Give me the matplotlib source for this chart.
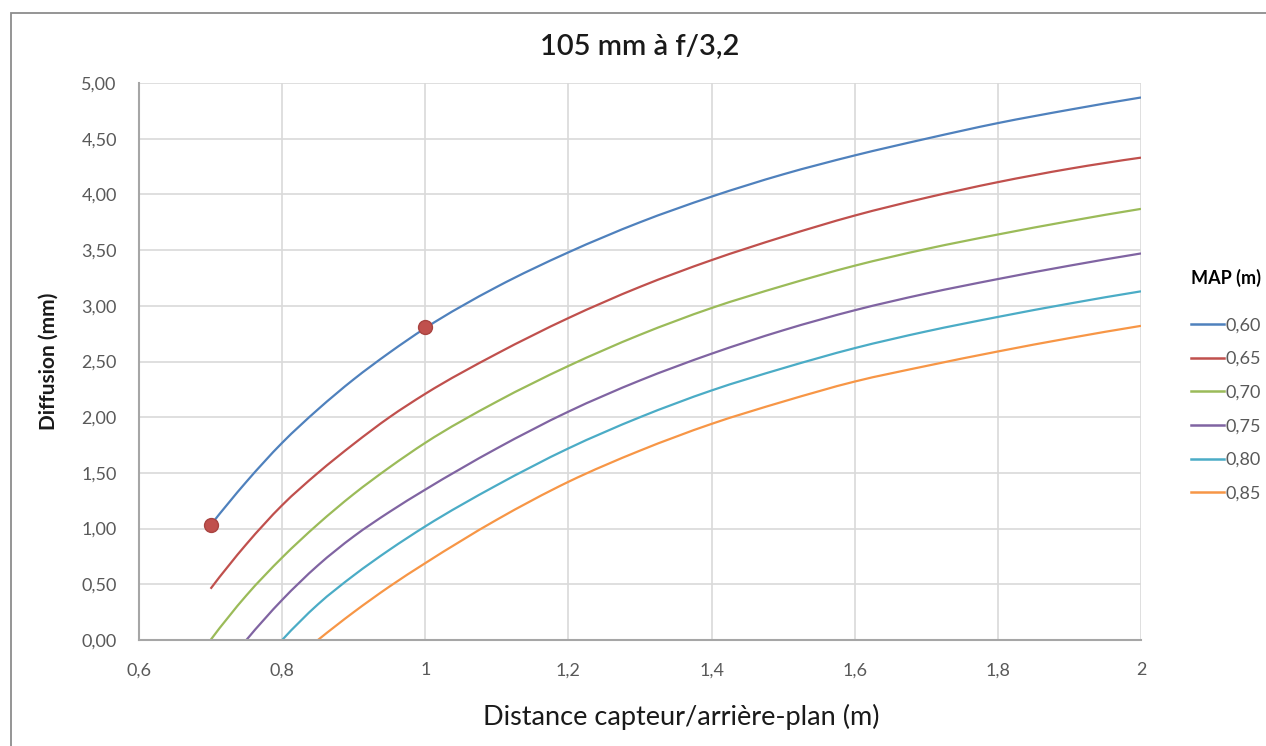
import matplotlib
matplotlib.use("Agg")
import matplotlib.pyplot as plt
from matplotlib.patches import Rectangle, PathPatch
from matplotlib.path import Path
from matplotlib.lines import Line2D
from matplotlib.ticker import FixedLocator, FuncFormatter

plt.rcParams['font.family'] = ['Lato', 'DejaVu Sans']

# distances (m)
dist = [0.70, 0.75, 0.80, 0.85, 0.90, 0.95, 1.00, 1.10, 1.20, 1.30,
        1.40, 1.50, 1.60, 1.70, 1.80, 1.90, 2.00]

map_labels = ["0,60", "0,65", "0,70", "0,75", "0,80", "0,85"]

# diffusion (mm) per MAP value; curves start where MAP is reached
blur_060 = [1.03, 1.42, 1.77, 2.07, 2.34, 2.58, 2.80, 3.17, 3.48, 3.75,
            3.98, 4.18, 4.35, 4.50, 4.64, 4.76, 4.87]
blur_065 = [0.46, 0.86, 1.21, 1.50, 1.76, 2.00, 2.21, 2.57, 2.89, 3.17,
            3.41, 3.62, 3.81, 3.97, 4.11, 4.23, 4.33]
blur_070 = [0.00, 0.40, 0.74, 1.04, 1.31, 1.55, 1.77, 2.14, 2.46, 2.74,
            2.98, 3.18, 3.36, 3.51, 3.64, 3.76, 3.87]
blur_075 = [0.00, 0.36, 0.67, 0.93, 1.15, 1.35, 1.72, 2.05, 2.33,
            2.57, 2.78, 2.96, 3.11, 3.24, 3.36, 3.47]
blur_080 = [0.00, 0.32, 0.58, 0.81, 1.02, 1.39, 1.72, 2.00,
            2.24, 2.44, 2.62, 2.77, 2.90, 3.02, 3.13]
blur_085 = [0.00, 0.25, 0.48, 0.69, 1.08, 1.42, 1.70,
            1.94, 2.14, 2.32, 2.46, 2.59, 2.71, 2.82]

series = [blur_060, blur_065, blur_070, blur_075, blur_080, blur_085]
colors = ["#4F81BD", "#C0504D", "#9BBB59", "#8064A2", "#4BACC6", "#F79646"]

# highlighted points
pt_x = [0.70, 1.00]
pt_y = [1.03, 2.81]

x_ticks = [0.6, 0.8, 1.0, 1.2, 1.4, 1.6, 1.8, 2.0]
y_ticks = [0, 0.5, 1, 1.5, 2, 2.5, 3, 3.5, 4, 4.5, 5]


def smooth_path(xs, ys):
    # smoothed line like Excel: cubic Hermite through the points, drawn as Bezier
    n = len(xs)
    h = [xs[i+1] - xs[i] for i in range(n-1)]
    s = [(ys[i+1] - ys[i]) / h[i] for i in range(n-1)]
    m = [0.0] * n
    for i in range(1, n-1):
        m[i] = (h[i] * s[i-1] + h[i-1] * s[i]) / (h[i-1] + h[i])
    m[0] = s[0] + (s[0] - s[1]) * h[0] / (h[0] + h[1])
    m[-1] = s[-1] + (s[-1] - s[-2]) * h[-1] / (h[-1] + h[-2])
    verts = [(xs[0], ys[0])]
    codes = [Path.MOVETO]
    for i in range(n-1):
        verts += [(xs[i] + h[i]/3, ys[i] + m[i]*h[i]/3),
                  (xs[i+1] - h[i]/3, ys[i+1] - m[i+1]*h[i]/3),
                  (xs[i+1], ys[i+1])]
        codes += [Path.CURVE4] * 3
    return Path(verts, codes)


fig = plt.figure(figsize=(12.66, 7.46), dpi=100)
ax = fig.add_axes([139/1266, 1-640/746, (1141-139)/1266, (640-83)/746])

# outer chart border
fig.patches.append(Rectangle((11/1266, -0.05), 1.2, 1-13/746+0.05,
                             transform=fig.transFigure, fill=False,
                             edgecolor="#8C8C8C", linewidth=1.3))

handles = []
for ys, col, lab in zip(series, colors, map_labels):
    xs = dist[len(dist)-len(ys):]
    ax.add_patch(PathPatch(smooth_path(xs, ys), fill=False, edgecolor=col,
                           linewidth=1.6, capstyle="butt"))
    handles.append(Line2D([], [], color=col, linewidth=1.8, label=lab))

ax.plot(pt_x, pt_y, "o", color="#C0504D", markersize=10,
        markeredgecolor="#A94441", zorder=5)

ax.set_xlim(0.6, 2.0)
ax.set_ylim(0, 5)
ax.xaxis.set_major_locator(FixedLocator(x_ticks))
ax.yaxis.set_major_locator(FixedLocator(y_ticks))


def fmt_x(v, pos):
    s = "%g" % round(v, 2)
    return s.replace(".", ",")


ax.xaxis.set_major_formatter(FuncFormatter(fmt_x))
ax.yaxis.set_major_formatter(FuncFormatter(lambda v, p: ("%.2f" % v).replace(".", ",")))

ax.grid(True, color="#D9D9D9", linewidth=1.2)
ax.set_axisbelow(True)
for sp in ["top", "right"]:
    ax.spines[sp].set_visible(False)
for sp in ["left", "bottom"]:
    ax.spines[sp].set_color("#A6A6A6")
    ax.spines[sp].set_linewidth(1.5)
ax.tick_params(length=0, labelsize=13, labelcolor="#595959", pad=16)

ax.set_title("105 mm à f/3,2", fontsize=21, fontweight="semibold",
             color="#1a1a1a", pad=20)
ax.set_xlabel("Distance capteur/arrière-plan (m)", fontsize=19.5,
              color="#1a1a1a")
ax.xaxis.set_label_coords(0.541, -0.115)
ax.set_ylabel("Diffusion (mm)", fontsize=15, fontweight="bold",
              color="#1a1a1a", labelpad=16)

leg = ax.legend(handles=handles, loc="upper left",
                bbox_to_anchor=(1.043, 0.68),
                frameon=False, title="MAP (m)", fontsize=13,
                handlelength=1.8, handletextpad=0.1, labelspacing=0.98,
                borderaxespad=0)
leg.get_title().set_fontweight("bold")
leg.get_title().set_fontsize(13)
leg._legend_box.align = "left"
leg._legend_box.sep = 22
for t in leg.get_texts():
    t.set_color("#595959")

fig.savefig("out.png", dpi=100)
